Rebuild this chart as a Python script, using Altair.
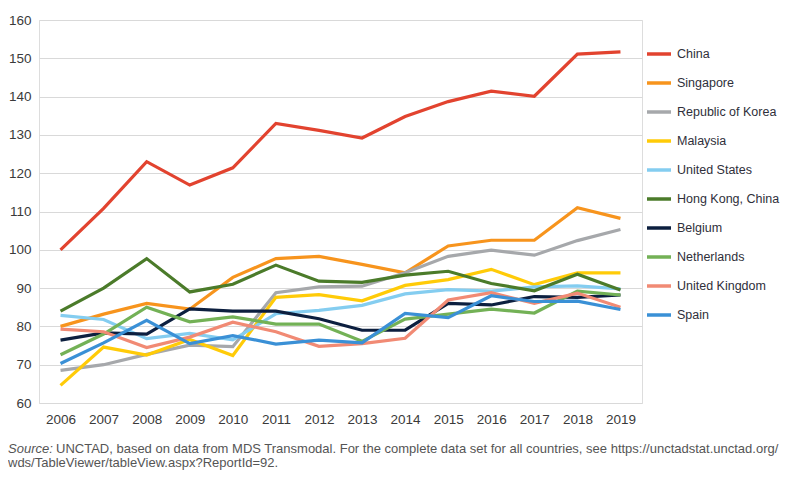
import altair as alt
import pandas as pd

years = [str(y) for y in range(2006, 2020)]

countries = ["China", "Singapore", "Republic of Korea", "Malaysia", "United States",
             "Hong Kong, China", "Belgium", "Netherlands", "United Kingdom", "Spain"]
colors = ["#E2432F", "#F7941D", "#A6A8AB", "#FFCB08", "#84CDF0",
          "#4B7B2A", "#0C1F3F", "#73B156", "#F18A74", "#3A90D6"]

china = [100, 110.8, 123, 116.9, 121.4, 133, 131.2, 129.2, 134.8, 138.7, 141.4, 140.1, 151.1, 151.7]
singapore = [80, 83.2, 86, 84.5, 92.8, 97.7, 98.3, 96.2, 94, 101, 102.5, 102.5, 111, 108.2]
korea = [68.5, 70, 72.7, 75.1, 74.7, 88.8, 90.3, 90.5, 94, 98.3, 99.9, 98.6, 102.4, 105.3]
malaysia = [64.6, 74.6, 72.5, 76.6, 72.4, 87.6, 88.3, 86.7, 90.7, 92.2, 94.9, 90.9, 94, 94]
united_states = [82.9, 81.8, 76.8, 78.2, 76.5, 83.3, 84.2, 85.5, 88.5, 89.6, 89.2, 90.3, 90.6, 89.8]
hong_kong = [84, 90, 97.7, 89, 91, 96, 91.8, 91.5, 93.4, 94.4, 91.2, 89.3, 93.6, 89.5]
belgium = [76.4, 78.3, 78, 84.6, 84, 84, 82, 79, 79, 86, 85.6, 87.8, 87.6, 88.2]
netherlands = [72.6, 78, 85, 81.2, 82.5, 80.6, 80.6, 76.1, 81.9, 83.2, 84.5, 83.5, 89.2, 88.2]
united_kingdom = [79.3, 78.6, 74.5, 77.2, 81.1, 78.6, 74.8, 75.5, 76.9, 86.9, 88.8, 86, 88.7, 85]
spain = [70.3, 75.7, 81.6, 75.5, 77.6, 75.4, 76.4, 75.7, 83.4, 82.3, 88, 86.5, 86.6, 84.4]

series = [china, singapore, korea, malaysia, united_states,
          hong_kong, belgium, netherlands, united_kingdom, spain]

y_ticks = list(range(60, 161, 10))

source_italic = "Source:"
source_line1 = "UNCTAD, based on data from MDS Transmodal. For the complete data set for all countries, see https://unctadstat.unctad.org/"
source_line2 = "wds/TableViewer/tableView.aspx?ReportId=92."

rows = []
for name, vals in zip(countries, series):
    for yr, v in zip(years, vals):
        rows.append({"country": name, "year": yr, "value": v})
df = pd.DataFrame(rows)

SANS = "Liberation Sans, Arial, sans-serif"

lines = alt.Chart(df).mark_line(strokeWidth=3.2).encode(
    x=alt.X("year:O", sort=years,
            scale=alt.Scale(type="point", padding=0.5),
            axis=alt.Axis(title=None, labelAngle=0, domain=False, ticks=False,
                          labelFont=SANS, labelFontSize=13.5, labelColor="#3a3a3a",
                          labelPadding=9, grid=False)),
    y=alt.Y("value:Q",
            scale=alt.Scale(domain=[60, 160], nice=False, zero=False),
            axis=alt.Axis(title=None, values=y_ticks, domain=False, ticks=False,
                          labelFont=SANS, labelFontSize=13.5, labelColor="#3a3a3a",
                          labelPadding=8, grid=True, gridColor="#d9d9d9", gridWidth=1.2)),
    color=alt.Color("country:N", sort=countries,
                    scale=alt.Scale(domain=countries, range=colors),
                    legend=alt.Legend(title=None, orient="none", legendX=606, legendY=20,
                                      symbolType="stroke", symbolSize=576,
                                      symbolStrokeWidth=3.5, labelFont=SANS,
                                      labelFontSize=12.5, labelColor="#2f2f3a",
                                      labelOffset=4, rowPadding=8, labelLimit=200)),
)

blank = alt.Data(values=[{}])
t0 = alt.Chart(blank).mark_text(text=source_italic, font=SANS, fontSize=13, fontStyle="italic",
                                 color="#555555", align="left", baseline="middle").encode(
    x=alt.value(-31), y=alt.value(429))
t1 = alt.Chart(blank).mark_text(text=source_line1, font=SANS, fontSize=13,
                                 color="#555555", align="left", baseline="middle").encode(
    x=alt.value(17), y=alt.value(429))
t2 = alt.Chart(blank).mark_text(text=source_line2, font=SANS, fontSize=13,
                                 color="#555555", align="left", baseline="middle").encode(
    x=alt.value(-31), y=alt.value(442.5))

chart = alt.layer(lines, t0, t1, t2).properties(
    width=603, height=383,
    autosize="none",
    padding={"left": 31, "top": 12, "right": 139, "bottom": 82},
).configure_view(stroke=None).configure(background="white")

chart.save("out.html", embed_options={"renderer": "svg", "actions": False})
